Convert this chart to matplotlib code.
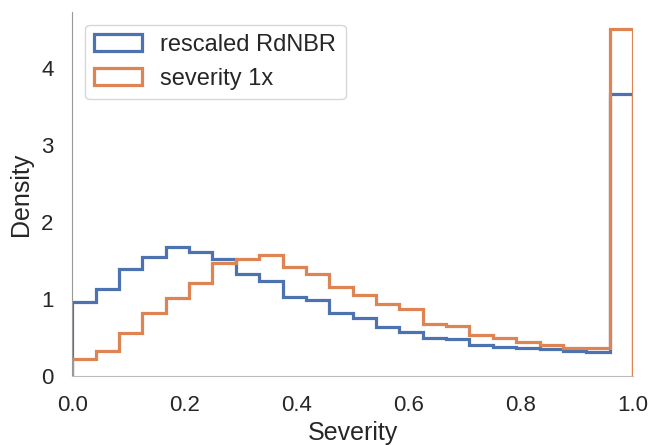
import matplotlib
matplotlib.use("Agg")
import matplotlib.pyplot as plt
import numpy as np
import seaborn as sns

# 24 equal bins on [0, 1], densities
edges = np.linspace(0, 1, 25)
rdnbr = [0.96, 1.13, 1.39, 1.55, 1.68, 1.61, 1.52, 1.33, 1.23, 1.03, 0.99, 0.82,
         0.75, 0.64, 0.575, 0.49, 0.475, 0.40, 0.38, 0.36, 0.355, 0.33, 0.315, 3.66]
sev1x = [0.22, 0.325, 0.56, 0.82, 1.02, 1.21, 1.47, 1.515, 1.57, 1.42, 1.32, 1.16,
         1.05, 0.935, 0.865, 0.675, 0.65, 0.53, 0.50, 0.44, 0.40, 0.37, 0.36, 4.51]
labels = ["rescaled RdNBR", "severity 1x"]

sns.set_style("white")
plt.rcParams["font.family"] = ["Liberation Sans", "DejaVu Sans"]

fig = plt.figure(figsize=(6.5, 4.45), dpi=100)
ax = fig.add_axes([0.111, 0.155, 0.863, 0.818])

centers = edges[:-1] + np.diff(edges) / 2
ax.hist(centers, bins=edges, weights=rdnbr, histtype="step", lw=2.3,
        color="#4C72B0", label=labels[0])
ax.hist(centers, bins=edges, weights=sev1x, histtype="step", lw=2.3,
        color="#DD8452", label=labels[1])

ax.set_xlim(0, 1)
ax.set_ylim(0, 4.73)
ax.set_yticks([0, 1, 2, 3, 4])
ax.set_xlabel("Severity", fontsize=18, labelpad=4)
ax.set_ylabel("Density", fontsize=18, labelpad=6)
ax.tick_params(labelsize=16, pad=10)
for s in ["top", "right"]:
    ax.spines[s].set_visible(False)
ax.spines["left"].set_color("#999999")
ax.spines["bottom"].set_color("#bbbbbb")

ax.legend(loc="upper left", fontsize=17, bbox_to_anchor=(0.01, 0.985),
          borderaxespad=0.3)

fig.savefig("out.png", dpi=100)
